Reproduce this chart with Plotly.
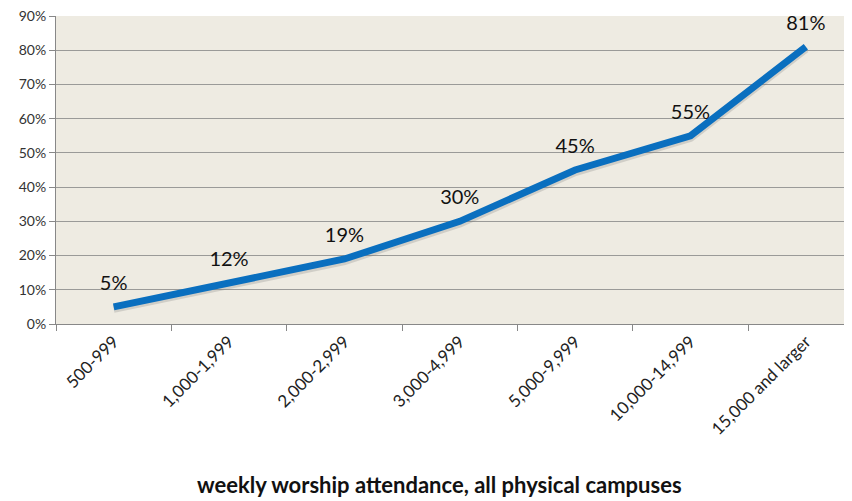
import plotly.graph_objects as go

categories = ["500-999", "1,000-1,999", "2,000-2,999", "3,000-4,999",
              "5,000-9,999", "10,000-14,999", "15,000 and larger"]
values = [5, 12, 19, 30, 45, 55, 81]
labels = [f"{v}%" for v in values]
y_ticks = list(range(0, 91, 10))

fig = go.Figure()
# soft shadow under the line
fig.add_trace(go.Scatter(
    x=categories, y=[v - 0.6 for v in values], mode="lines",
    line=dict(color="rgba(120,120,120,0.25)", width=8),
    hoverinfo="skip", showlegend=False))
fig.add_trace(go.Scatter(
    x=categories, y=values, mode="lines+markers+text",
    line=dict(color="#0A6FBF", width=7),
    marker=dict(size=18, opacity=0),
    text=labels, textposition="top center", cliponaxis=False,
    textfont=dict(family="Lato, Open Sans, sans-serif", size=20, color="#111"),
    showlegend=False))

# page body has an 8px margin, so the figure is 8px smaller than the window
fig.update_layout(
    width=844, height=493,
    margin=dict(l=48, r=0, t=8, b=177),
    plot_bgcolor="#EEEBE2",
    paper_bgcolor="white",
    font=dict(family="Lato, Open Sans, sans-serif", color="#333"),
    annotations=[dict(
        text="<b>weekly worship attendance, all physical campuses</b>",
        x=0.482, y=-0.572, xref="paper", yref="paper",
        showarrow=False, font=dict(size=22, color="#111"))],
)
fig.update_xaxes(
    range=[-0.5, 6.4], tickson="boundaries", ticks="outside", ticklen=6,
    tickcolor="#888", tickangle=-45, tickfont=dict(size=17, color="#222"),
    showline=True, linecolor="#888", showgrid=False, automargin=False)
fig.update_yaxes(
    range=[0, 90], tickvals=y_ticks, ticktext=[f"{t}%" for t in y_ticks],
    ticks="outside", ticklen=6, tickcolor="#888", tickfont=dict(size=14, color="#333"),
    ticklabeloverflow="allow",
    showline=True, linecolor="#888", gridcolor="#9A9A98", gridwidth=1,
    zeroline=False, automargin=False)

fig.write_html("out.html")
